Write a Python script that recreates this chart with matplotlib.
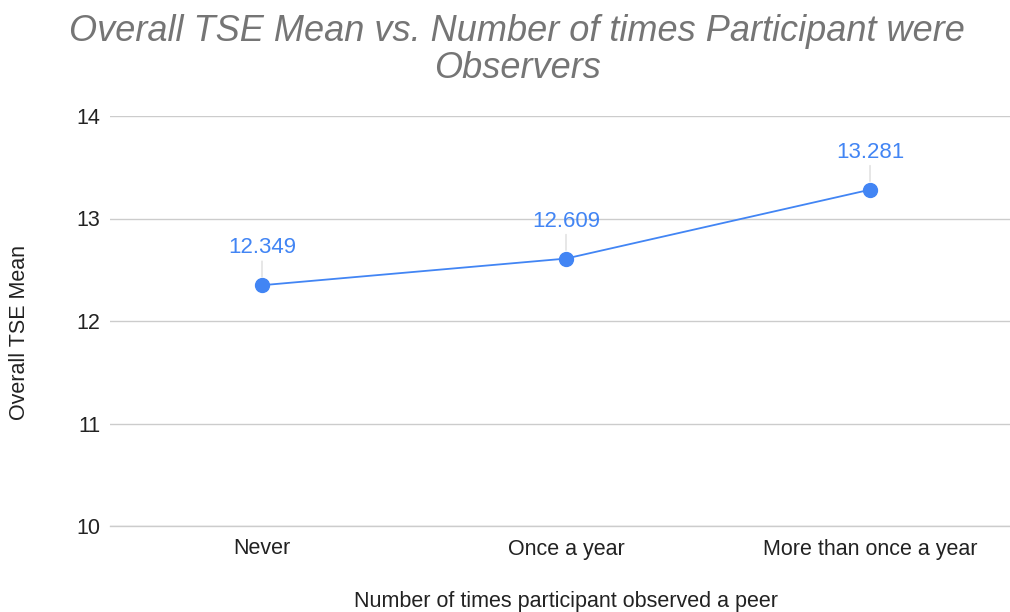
import matplotlib
matplotlib.use('Agg')
import matplotlib.pyplot as plt

plt.rcParams['font.family'] = ['Liberation Sans', 'DejaVu Sans']

# data
categories = ['Never', 'Once a year', 'More than once a year']
tse_mean = [12.349, 12.609, 13.281]
y_ticks = [10, 11, 12, 13, 14]

blue = '#4285F4'
grid_col = '#cccccc'
txt_col = '#222222'

fig = plt.figure(figsize=(10.10, 6.12), dpi=100)
ax = fig.add_axes([110 / 1010, 86 / 612, 900 / 1010, 410 / 612])

x = list(range(len(categories)))
ax.plot(x, tse_mean, color=blue, linewidth=1.3, marker='o', markersize=10,
        zorder=3, clip_on=False)

# data labels with little leader lines
for xi, val in zip(x, tse_mean):
    ax.annotate(f'{val:.3f}', xy=(xi, val), xytext=(0, 23), textcoords='offset points',
                ha='center', va='baseline', color=blue, fontsize=16,
                arrowprops=dict(arrowstyle='-', color='#d9d9d9', lw=0.9,
                                shrinkA=0, shrinkB=6, relpos=(0.5, 0)),
                zorder=4)

ax.set_xlim(-0.5, 2.4605)
ax.set_ylim(10, 14)
ax.set_yticks(y_ticks)
ax.set_xticks(x)
ax.set_xticklabels(categories)
ax.tick_params(axis='both', length=0, labelsize=15.5, labelcolor=txt_col)
ax.tick_params(axis='x', pad=9)
ax.tick_params(axis='y', pad=7)
ax.grid(axis='y', color=grid_col, linewidth=1)
ax.axhline(y_ticks[0], color=grid_col, linewidth=1, clip_on=False, zorder=0.5)
ax.set_axisbelow(True)
for s in ax.spines.values():
    s.set_visible(False)

ax.set_ylabel('Overall TSE Mean', fontsize=15.5, color=txt_col)
ax.yaxis.set_label_coords(-(110 - 30) / 900, (526 - 332) / 410)
ax.set_xlabel('Number of times participant observed a peer', fontsize=15.5, color=txt_col)
ax.xaxis.set_label_coords((566 - 110) / 900, -(591 - 526) / 410)

fig.text(517 / 1010, 1 - 50 / 612,
         'Overall TSE Mean vs. Number of times Participant were\nObservers',
         ha='center', va='center', fontsize=26, style='italic', color='#757575',
         linespacing=1.06)

fig.savefig('out.png', dpi=100, facecolor='white')
